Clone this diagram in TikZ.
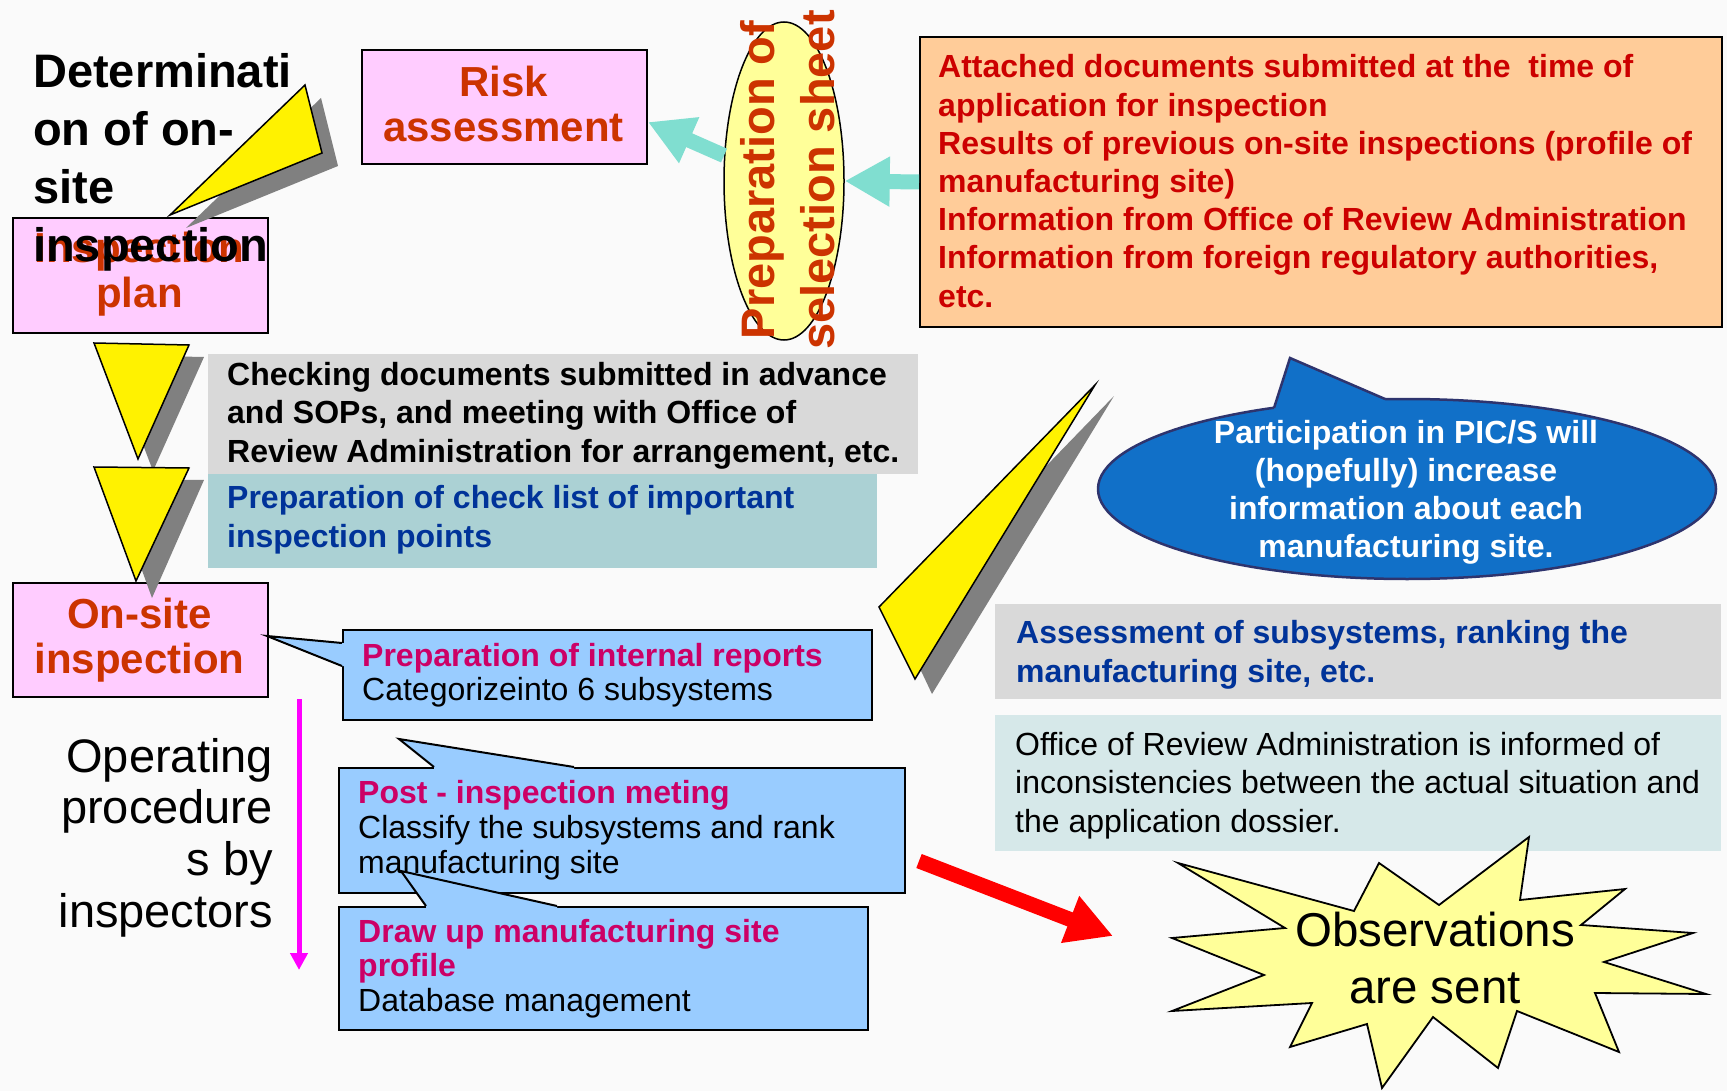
\documentclass[tikz,border=0pt]{standalone}
\usepackage{fontspec}
\setmainfont{Liberation Sans}
\usetikzlibrary{shapes.geometric,arrows.meta}

\definecolor{pinkbox}{RGB}{255,204,255}
\definecolor{rust}{RGB}{204,51,0}
\definecolor{orangebox}{RGB}{255,204,153}
\definecolor{darkred}{RGB}{204,0,0}
\definecolor{greybox}{RGB}{217,217,217}
\definecolor{tealbox}{RGB}{171,209,212}
\definecolor{navytext}{RGB}{0,51,153}
\definecolor{calloutblue}{RGB}{153,204,255}
\definecolor{magtext}{RGB}{204,0,102}
\definecolor{officebox}{RGB}{214,232,233}
\definecolor{bubble}{RGB}{17,112,200}
\definecolor{bubbleedge}{RGB}{46,52,110}
\definecolor{wedgeshadow}{RGB}{128,128,128}
\definecolor{starfill}{RGB}{255,255,153}
\definecolor{aqua}{RGB}{128,222,208}
\definecolor{bgcol}{RGB}{250,250,250}
\definecolor{pinkline}{RGB}{255,0,255}

\newcommand\LinesL[1]{\begin{tabular}[t]{@{}l@{}}#1\end{tabular}}
\newcommand\LinesC[1]{\begin{tabular}[t]{@{}c@{}}#1\end{tabular}}
\newcommand\LinesR[1]{\begin{tabular}[t]{@{}r@{}}#1\end{tabular}}
\newcommand\fs[2]{\fontsize{#1}{#2}\selectfont}

\begin{document}
\begin{tikzpicture}[x=1pt,y=-1pt,
  box/.style={draw=black, line width=2pt, inner sep=0, anchor=north west},
  flatbox/.style={inner sep=0, anchor=north west},
  txt/.style={inner sep=0},
  wedgeshape/.style={fill=yellow, draw=black, line width=1.5pt, line join=miter},
  wedgeshade/.style={fill=wedgeshadow},
  calloutside/.style={draw=black, line width=2pt, line join=miter},
  aquaarrow/.style={draw=aqua, line width=15pt, -{Triangle[width=47pt,length=45pt]}},
  redarrow/.style={draw=red, line width=15pt, -{Triangle[width=47pt,length=46pt]}},
  magarrow/.style={draw=pinkline, line width=5pt, -{Triangle[width=17pt,length=17pt]}}
]
\useasboundingbox (0,0) rectangle (1727,1091);
\fill[bgcol] (0,0) rectangle (1727,1091);

% ---------- boxes ----------
\node[box, fill=pinkbox, minimum width=255pt, minimum height=115pt] (plan) at (12,217) {};
\node[box, fill=pinkbox, minimum width=285pt, minimum height=114pt] (risk) at (361,49) {};
\node[box, fill=orangebox, minimum width=802pt, minimum height=290pt] (orange) at (919,36) {};
\node[draw=black, line width=1.5pt, fill=starfill, ellipse, inner sep=0,
      minimum width=120pt, minimum height=318pt] (sel) at (784,181) {};
\node[flatbox, fill=greybox, minimum width=710pt, minimum height=120pt] (check) at (208,354) {};
\node[flatbox, fill=tealbox, minimum width=669pt, minimum height=94pt] (checklist) at (208,474) {};
\node[box, fill=pinkbox, minimum width=255pt, minimum height=114pt] (onsite) at (12,582) {};
\node[flatbox, fill=greybox, minimum width=726pt, minimum height=95pt] (assess) at (995,604) {};
\node[flatbox, fill=officebox, minimum width=726pt, minimum height=136pt] (office) at (995,715) {};

% ---------- texts in boxes ----------
\node[txt, anchor=base, font=\fs{42}{45}\bfseries, text=rust] (plantext) at (139.5,263) {\LinesC{Inspection\\plan}};
\node[txt, anchor=base, font=\fs{42}{45}\bfseries, text=rust] (risktext) at (503.5,97) {\LinesC{Risk\\assessment}};
\node[txt, anchor=base, font=\fs{42}{45}\bfseries, text=rust] (onsitetext) at (139.5,628) {\LinesC{On-site\\inspection}};
\node[txt, anchor=base, rotate=90, font=\fs{47}{60}\bfseries, text=rust] (seltext) at (774,180) {\LinesC{Preparation of\\selection sheet}};
\node[txt, anchor=base west, font=\fs{32}{38.2}\bfseries, text=darkred] (orangetext) at (938,78)
  {\LinesL{Attached documents submitted at the\ \ time of\\application for inspection\\Results of previous on-site inspections (profile of\\manufacturing site)\\Information from Office of Review Administration\\Information from foreign regulatory authorities,\\etc.}};
\node[txt, anchor=base west, font=\fs{32}{38.5}\bfseries, text=black] (checktext) at (227,385)
  {\LinesL{Checking documents submitted in advance\\and SOPs, and meeting with Office of\\Review Administration for arrangement, etc.}};
\node[txt, anchor=base west, font=\fs{32}{39}\bfseries, text=navytext] (checklisttext) at (227,508)
  {\LinesL{Preparation of check list of important\\inspection points}};
\node[txt, anchor=base west, font=\fs{32}{39}\bfseries, text=navytext] (assesstext) at (1016,643)
  {\LinesL{Assessment of subsystems, ranking the\\manufacturing site, etc.}};
\node[txt, anchor=base west, font=\fs{32}{38.5}, text=black] (officetext) at (1015,755)
  {\LinesL{Office of Review Administration is informed of\\inconsistencies between the actual situation and\\the application dossier.}};

% ---------- cyan arrows ----------
\draw[aquaarrow] (orange.west) -- (sel.east);
\draw[aquaarrow] (sel.157) -- (risk.-6);

% ---------- callout 1 ----------
\node[box, fill=calloutblue, minimum width=529pt, minimum height=90pt] (report) at (342,629) {};
\fill[calloutblue] (345,643) -- (342,643) -- (267,636) -- (342,666) -- (345,666) -- cycle;
\draw[calloutside] (342,643) -- (267,636) -- (342,666);
\node[txt, anchor=base west, font=\fs{32}{34}] (reporttext) at (362,666)
  {\LinesL{{\bfseries\color{magtext}Preparation of internal reports}\\Categorizeinto 6 subsystems}};

% ---------- callout 2 ----------
\node[box, fill=calloutblue, minimum width=566pt, minimum height=125pt] (post) at (338,767) {};
\fill[calloutblue] (434,770) -- (434,767) -- (399,739) -- (574,767) -- (574,770) -- cycle;
\draw[calloutside] (434,767) -- (399,739) -- (574,767);
\node[txt, anchor=base west, font=\fs{32}{35}] (posttext) at (358,803)
  {\LinesL{{\bfseries\color{magtext}Post - inspection meting}\\Classify the subsystems and rank\\manufacturing site}};

% ---------- callout 3 ----------
\node[box, fill=calloutblue, minimum width=529pt, minimum height=123pt] (profile) at (338,906) {};
\fill[calloutblue] (426,909) -- (426,906) -- (401,871) -- (557,906) -- (557,909) -- cycle;
\draw[calloutside] (426,906) -- (401,871) -- (557,906);
\node[txt, anchor=base west, font=\fs{32}{34.5}] (profiletext) at (358,942)
  {\LinesL{{\bfseries\color{magtext}Draw up manufacturing site}\\{\bfseries\color{magtext}profile}\\Database management}};

% ---------- blue bubble ----------
\node[ellipse, draw=bubbleedge, line width=2.5pt, fill=bubble, inner sep=0,
      minimum width=618pt, minimum height=180pt] (pics) at (1407,489) {};
\fill[bubble] (1274,414) -- (1274,408) -- (1290,358) -- (1385,399) -- (1385,405) -- cycle;
\draw[draw=bubbleedge, line width=2.5pt, line join=miter] (1274,408) -- (1290,358) -- (1385,399);
\node[txt, anchor=base, font=\fs{32}{38.3}\bfseries, text=white] (picstext) at (1406,443)
  {\LinesC{Participation in PIC/S will\\(hopefully) increase\\information about each\\manufacturing site.}};

% ---------- star ----------
\filldraw[fill=starfill, draw=black, line width=1.8pt, line join=miter]
  (1178,863) -- (1354,911) -- (1379,863) -- (1439,905) -- (1529,837) -- (1520,900)
  -- (1625,889) -- (1581,925) -- (1693,933) -- (1604,962) -- (1706,994) -- (1595,993)
  -- (1619,1052) -- (1517,1011) -- (1498,1068) -- (1433,1017) -- (1382,1088) -- (1367,1024)
  -- (1290,1047) -- (1312,1003) -- (1172,1011) -- (1264,975) -- (1172,938) -- (1285,928) -- cycle;
\node[txt, anchor=base, font=\fs{47.5}{57}] (star) at (1435,946) {\LinesC{Observations\\are sent}};

% ---------- red arrow ----------
\coordinate (redS) at (919,861);
\coordinate (redE) at (1113,936);
\draw[redarrow] (redS) -- (redE);

% ---------- magenta arrow and label ----------
\coordinate (magS) at (299,699);
\coordinate (magE) at (299,970);
\draw[magarrow] (magS) -- (magE);
\node[txt, anchor=base east, font=\fs{47}{51.7}] (operating) at (273,772)
  {\LinesR{Operating\\procedure\\s by\\inspectors}};

% ---------- yellow wedges ----------
\fill[wedgeshade] (321,98) -- (338,166) -- (186,228) -- cycle;
\filldraw[wedgeshape] (305,85) -- (322,153) -- (170,215) -- cycle;
\fill[wedgeshade] (109,355) -- (204,357) -- (153,471) -- cycle;
\filldraw[wedgeshape] (94,343) -- (189,345) -- (138,459) -- cycle;
\fill[wedgeshade] (109,479) -- (204,480) -- (152,598) -- cycle;
\filldraw[wedgeshape] (94,467) -- (189,468) -- (136,581) -- cycle;
\fill[wedgeshade] (1114,396) -- (897,620) -- (932,694) -- cycle;
\filldraw[wedgeshape] (1095,385) -- (879,607) -- (915,679) -- cycle;

% ---------- title ----------
\node[txt, anchor=base west, font=\fs{47}{58}\bfseries, text=black] (title) at (33,88)
  {\LinesL{Determinati\\on of on-\\site\\inspection}};
\end{tikzpicture}
\end{document}
